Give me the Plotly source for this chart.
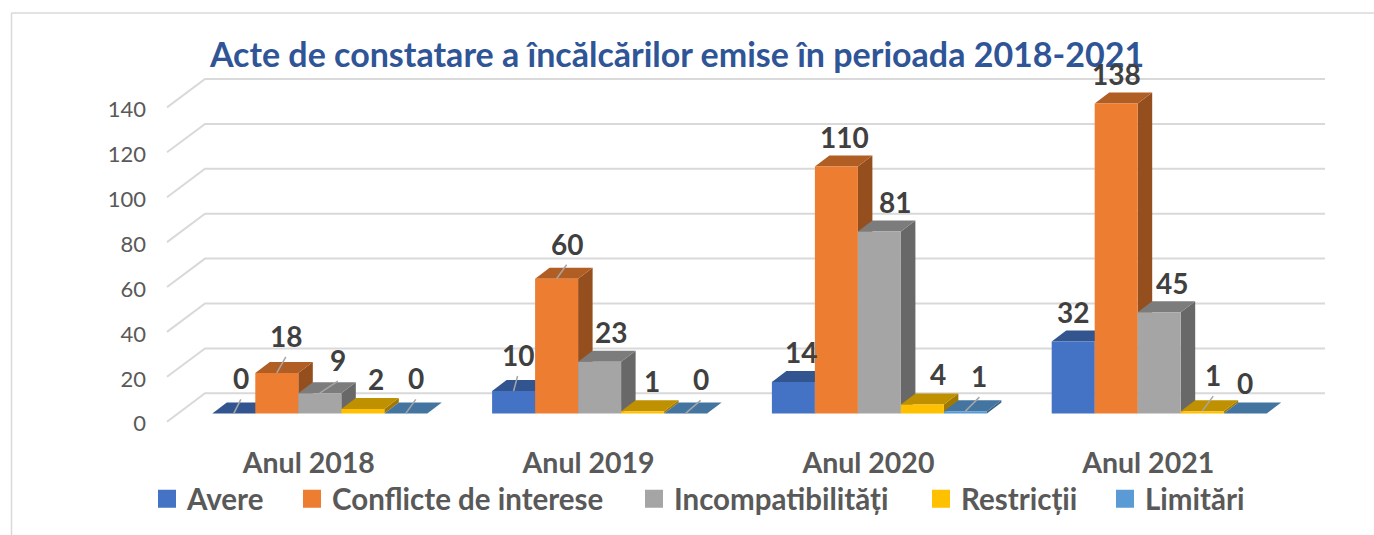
import plotly.graph_objects as go

# ---------- data ----------
categories = ["Anul 2018", "Anul 2019", "Anul 2020", "Anul 2021"]
series_names = ["Avere", "Conflicte de interese", "Incompatibilități", "Restricții", "Limitări"]
avere = [0, 10, 14, 32]
conflicte = [18, 60, 110, 138]
incompatibilitati = [9, 23, 81, 45]
restrictii = [2, 1, 4, 1]
limitari = [0, 0, 1, 0]
y_ticks = [0, 20, 40, 60, 80, 100, 120, 140]
title_text = "Acte de constatare a încălcărilor emise în perioada 2018-2021"

# ---------- styles / layout constants ----------
W, H = 1374, 535
front = ["#4472C4", "#ED7D31", "#A5A5A5", "#FFC000", "#5B9BD5"]
top_c = ["#33558F", "#B15E25", "#7C7C7C", "#BF9000", "#4474A0"]
side_c = ["#2B4A7B", "#954F1F", "#686868", "#A17900", "#3A6286"]
PX_PER_UNIT = 2.245
PX_PER_CAT = 279.8
CAT0_PX = 319.8
BAR_PX = 43.0
BASE_FRONT = 413.4   # pixel of value 0 on the bars' plane
BASE_AXIS = 421.7    # pixel of value 0 on the tick plane
PLOT_BOTTOM = 443.0
WALL_DX, WALL_DY = 38.0, 28.4
BAR_DX, BAR_DY = 14.5, 11.0
WALL_LEFT, WALL_RIGHT = 167.0, 1325.0
GRID = "#D9D9D9"

# label offsets from the bar's front-top centre, in px (dx right, dy up), per series/category
label_dx = [[7, 4, 8, 0], [9, 10, 8, 0], [18, 11, 16, 13], [13, 9, 16, 11], [10, 15, 14, 0]]
label_dy = [[35, 36, 30, 30], [37, 35, 29, 30], [33, 30, 30, 29], [30, 30, 30, 36], [35, 34, 35, 30]]
leader = [[1, 1, 0, 0], [1, 1, 0, 0], [1, 0, 0, 0], [0, 0, 0, 1], [1, 1, 1, 0]]
legend_left = [147, 292, 634, 921, 1105]

values = [avere, conflicte, incompatibilitati, restrictii, limitari]

def ux(px):  # px length -> x units
    return px / PX_PER_CAT

def uy(px):  # px length -> y units
    return px / PX_PER_UNIT

x_range = [ux(0 - CAT0_PX), ux(W - CAT0_PX)]
y1_range = [uy(BASE_AXIS - PLOT_BOTTOM), uy(BASE_AXIS)]
y2_range = [uy(BASE_FRONT - PLOT_BOTTOM), uy(BASE_FRONT)]
front_shift = uy(BASE_AXIS - BASE_FRONT)
domain_y = [(H - PLOT_BOTTOM) / H, 1]

fig = go.Figure()

# walls
gx0 = ux(WALL_LEFT - CAT0_PX)
gx1 = ux(WALL_LEFT + WALL_DX - CAT0_PX)
gx2 = ux(WALL_RIGHT - CAT0_PX)
for t in y_ticks:
    fig.add_trace(go.Scatter(
        x=[gx0, gx1, gx2], y=[t, t + uy(WALL_DY), t + uy(WALL_DY)], mode="lines",
        line=dict(color=GRID, width=2), hoverinfo="skip", showlegend=False,
        xaxis="x", yaxis="y"))

n = len(series_names)
def bar_left(i, j):
    return i + ux(-n * BAR_PX / 2 + j * BAR_PX)

# tops and sides, left to right
for j in range(n):
    for i in range(len(categories)):
        v = values[j][i]
        x0 = bar_left(i, j)
        x1 = x0 + ux(BAR_PX)
        ddx, ddy = ux(BAR_DX), uy(BAR_DY)
        yv = v + front_shift
        y0 = front_shift
        fig.add_trace(go.Scatter(
            x=[x1, x1 + ddx, x1 + ddx, x1, x1], y=[y0, y0 + ddy, yv + ddy, yv, y0],
            mode="lines", fill="toself", fillcolor=side_c[j], line=dict(width=0, color=side_c[j]),
            hoverinfo="skip", showlegend=False, xaxis="x", yaxis="y"))
        fig.add_trace(go.Scatter(
            x=[x0, x1, x1 + ddx, x0 + ddx, x0], y=[yv, yv, yv + ddy, yv + ddy, yv],
            mode="lines", fill="toself", fillcolor=top_c[j], line=dict(width=0, color=top_c[j]),
            hoverinfo="skip", showlegend=False, xaxis="x", yaxis="y"))

# front faces (overlay axes, so they sit above every top and side)
for j, name in enumerate(series_names):
    fig.add_trace(go.Bar(
        x=list(range(len(categories))), y=values[j], name=name,
        marker=dict(color=front[j], line=dict(width=0)),
        width=ux(BAR_PX), offset=ux(-n * BAR_PX / 2 + j * BAR_PX),
        showlegend=False, xaxis="x2", yaxis="y2"))

# leader lines
for j in range(n):
    for i in range(len(categories)):
        if leader[j][i]:
            cx = bar_left(i, j) + ux(BAR_PX / 2)
            v = values[j][i]
            fig.add_trace(go.Scatter(
                x=[cx, cx + ux(label_dx[j][i])], y=[v, v + uy(label_dy[j][i] - 21)],
                mode="lines", line=dict(color="#A6A6A6", width=1.5), hoverinfo="skip",
                showlegend=False, xaxis="x2", yaxis="y2"))

# legend entries, each in its own legend so it can sit where the reference has it
for j, name in enumerate(series_names):
    fig.add_trace(go.Scatter(
        x=[None], y=[None], mode="markers", name=name,
        marker=dict(symbol="square", size=16, color=front[j], line=dict(width=2, color=front[j])),
        legend="legend" if j == 0 else f"legend{j + 1}", showlegend=True, xaxis="x", yaxis="y"))

annotations = []
for j in range(n):
    for i in range(len(categories)):
        annotations.append(dict(
            x=bar_left(i, j) + ux(BAR_PX / 2), y=values[j][i], xref="x2", yref="y2",
            text=str(values[j][i]), showarrow=False, xanchor="center", yanchor="middle",
            xshift=label_dx[j][i], yshift=label_dy[j][i],
            font=dict(family="Lato", size=28, color="#404040", weight="bold")))

legends = {}
for j in range(n):
    key = "legend" if j == 0 else f"legend{j + 1}"
    legends[key] = dict(
        x=legend_left[j] / W, y=(H - 499) / H, xanchor="left", yanchor="middle",
        orientation="h", bgcolor="rgba(0,0,0,0)", borderwidth=0, itemclick=False, itemdoubleclick=False,
        font=dict(family="Lato", size=29.5, color="#595959", weight="bold"))

shapes = [
    dict(type="line", xref="paper", yref="paper", x0=11.5 / W, x1=1, y0=1 - 13 / H, y1=1 - 13 / H,
         line=dict(color=GRID, width=1.5)),
    dict(type="line", xref="paper", yref="paper", x0=11.5 / W, x1=11.5 / W, y0=1 - 13 / H, y1=0,
         line=dict(color=GRID, width=1.5)),
]

fig.update_layout(
    width=W, height=H, autosize=False,
    margin=dict(l=0, r=0, t=0, b=0), paper_bgcolor="white", plot_bgcolor="white",
    title=dict(text=title_text, x=677 / W, xanchor="center", y=1 - 55 / H, yanchor="middle",
               font=dict(family="Lato", size=34, color="#2F5597", weight="bold")),
    xaxis=dict(domain=[0, 1], range=x_range, tickmode="array",
               tickvals=[i + ux(-11) for i in range(len(categories))], ticktext=categories,
               showgrid=False, zeroline=False, showline=False, ticks="", ticklen=0,
               tickfont=dict(family="Lato", size=28.5, color="#595959", weight="bold")),
    yaxis=dict(domain=domain_y, range=y1_range, tickmode="array", tickvals=y_ticks,
               showgrid=False, zeroline=False, showline=False, ticks="",
               anchor="free", position=146 / W, side="left", ticklabelshift=2,
               tickfont=dict(family="Lato", size=22, color="#595959")),
    xaxis2=dict(domain=[0, 1], range=x_range, overlaying="x", visible=False, anchor="y2"),
    yaxis2=dict(domain=domain_y, range=y2_range, overlaying="y", visible=False, anchor="x2"),
    showlegend=True, annotations=annotations, shapes=shapes, **legends,
)

fig.write_html("out.html", config={"displayModeBar": False},
               post_script="document.body.style.margin='0';")
